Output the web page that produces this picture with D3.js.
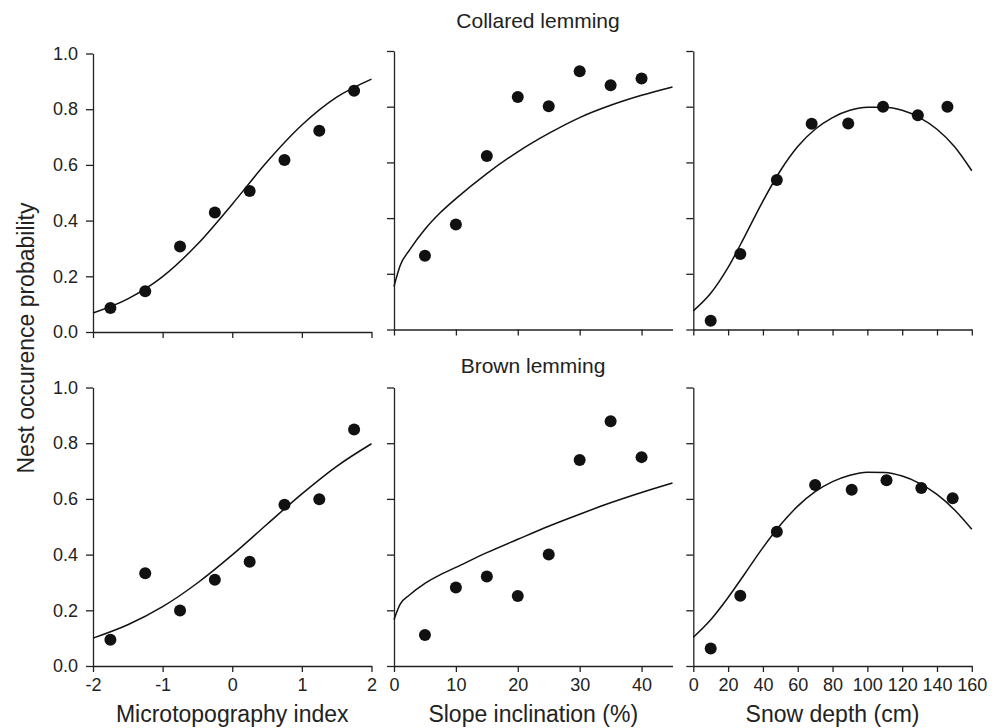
<!DOCTYPE html>
<html lang="en">
<head>
    <meta charset="UTF-8">
    <title>Nest occurence probability</title>
    <script src="https://d3js.org/d3.v7.min.js"></script>
    <style>
        body {
            margin: 0;
            background: #fff;
            font-family: Arial, "Liberation Sans", Helvetica, sans-serif;
        }
        svg {
            display: block;
        }
        .axis path, .axis line {
            stroke: #222;
            stroke-width: 1.3px;
        }
        .axis text {
            fill: #222;
            font-size: 18px;
            font-family: Arial, "Liberation Sans", Helvetica, sans-serif;
        }
        .label {
            fill: #222;
        }
    </style>
</head>
<body>

    <div id="container"></div>

    <script>

        const microX = [-1.75, -1.25, -0.75, -0.25, 0.25, 0.75, 1.25, 1.75];
        const collaredMicro = [0.086, 0.146, 0.307, 0.429, 0.506, 0.618, 0.723, 0.866];
        const brownMicro = [0.094, 0.333, 0.199, 0.310, 0.374, 0.579, 0.599, 0.849];

        const slopeX = [5, 10, 15, 20, 25, 30, 35, 40];
        const collaredSlope = [0.265, 0.377, 0.623, 0.835, 0.802, 0.927, 0.877, 0.901];
        const brownSlope = [0.111, 0.282, 0.321, 0.251, 0.400, 0.740, 0.879, 0.750];

        const collaredSnowX = [10, 27, 48, 68, 89, 109, 129, 146];
        const collaredSnow = [0.031, 0.271, 0.537, 0.739, 0.740, 0.800, 0.769, 0.800];
        const brownSnowX = [10, 27, 48, 70, 91, 111, 131, 149];
        const brownSnow = [0.063, 0.252, 0.482, 0.650, 0.633, 0.667, 0.639, 0.602];

        // fitted curves
        const microFitX = [-2, -1.5, -1, -0.5, 0, 0.5, 1, 1.5, 2];
        const collaredMicroFit = [0.068, 0.119, 0.199, 0.315, 0.459, 0.611, 0.743, 0.843, 0.908];
        const brownMicroFit = [0.100, 0.148, 0.213, 0.298, 0.399, 0.509, 0.618, 0.717, 0.798];

        const slopeFitX = [0, 1, 2.5, 5, 7.5, 10, 15, 20, 25, 30, 35, 40, 45];
        const collaredSlopeFit = [0.155, 0.23, 0.285, 0.36, 0.42, 0.47, 0.56, 0.638, 0.704, 0.761, 0.805, 0.841, 0.871];
        const brownSlopeFit = [0.167, 0.222, 0.255, 0.297, 0.328, 0.354, 0.407, 0.455, 0.502, 0.545, 0.586, 0.623, 0.657];

        const snowFitX = [0, 10, 20, 30, 40, 50, 60, 70, 80, 90, 100, 110, 120, 130, 140, 150, 160];
        const collaredSnowFit = [0.067, 0.130, 0.223, 0.340, 0.461, 0.570, 0.657, 0.719, 0.761, 0.787, 0.798, 0.798, 0.787, 0.761, 0.719, 0.657, 0.570];
        const brownSnowFit = [0.103, 0.166, 0.246, 0.335, 0.425, 0.506, 0.574, 0.626, 0.662, 0.685, 0.696, 0.695, 0.682, 0.656, 0.616, 0.561, 0.491];

        // axes
        const yTicks = [0, 0.2, 0.4, 0.6, 0.8, 1.0];
        const microTicks = [-2, -1, 0, 1, 2];
        const slopeTicks = [0, 10, 20, 30, 40];
        const snowTicks = [0, 20, 40, 60, 80, 100, 120, 140, 160];
        const xTitles = ['Microtopography index', 'Slope inclination (%)', 'Snow depth (cm)'];
        const rowTitles = ['Collared lemming', 'Brown lemming'];
        const yTitle = 'Nest occurence probability';

        // layout
        const width = 1002, height = 728;
        const colLeft = [93, 394, 693.3];
        const panelW = 278.5;
        const rowTop = [51, 387.5];
        const panelH = 278.5;

        const svg = d3.select('#container').append('svg')
            .attr('width', width)
            .attr('height', height);

        const zip = (xs, ys) => xs.map((x, i) => ({x: x, y: ys[i]}));

        const panels = [
            {row: 0, col: 0, domain: [-2, 2], ticks: microTicks, pts: zip(microX, collaredMicro), fit: zip(microFitX, collaredMicroFit)},
            {row: 0, col: 1, domain: [0, 45], ticks: slopeTicks, pts: zip(slopeX, collaredSlope), fit: zip(slopeFitX, collaredSlopeFit)},
            {row: 0, col: 2, domain: [0, 160], ticks: snowTicks, pts: zip(collaredSnowX, collaredSnow), fit: zip(snowFitX, collaredSnowFit)},
            {row: 1, col: 0, domain: [-2, 2], ticks: microTicks, pts: zip(microX, brownMicro), fit: zip(microFitX, brownMicroFit)},
            {row: 1, col: 1, domain: [0, 45], ticks: slopeTicks, pts: zip(slopeX, brownSlope), fit: zip(slopeFitX, brownSlopeFit)},
            {row: 1, col: 2, domain: [0, 160], ticks: snowTicks, pts: zip(brownSnowX, brownSnow), fit: zip(snowFitX, brownSnowFit)}
        ];

        // plain hyphen for negatives, like the original
        const intFormat = d => String(d);

        panels.forEach(function(p) {
            // the top-left panel sits a little lower in the original figure
            const top = rowTop[p.row] + (p.row === 0 && p.col === 0 ? 2.5 : 0);
            const g = svg.append('g')
                .attr('transform', 'translate(' + colLeft[p.col] + ',' + top + ')');

            const x = d3.scaleLinear().domain(p.domain).range([0, panelW]);
            const y = d3.scaleLinear().domain([0, 1]).range([panelH, 0]);

            const xAxis = d3.axisBottom(x)
                .tickValues(p.ticks)
                .tickSize(6)
                .tickSizeOuter(0)
                .tickPadding(6)
                .tickFormat(p.row === 1 ? intFormat : '');

            const yAxis = d3.axisLeft(y)
                .tickValues(yTicks)
                .tickSize(7)
                .tickSizeOuter(0)
                .tickPadding(8)
                .tickFormat(p.col === 0 ? d3.format('.1f') : '');

            g.append('g')
                .attr('class', 'axis')
                .attr('transform', 'translate(0,' + panelH + ')')
                .call(xAxis);

            g.append('g')
                .attr('class', 'axis')
                .call(yAxis);

            const line = d3.line()
                .x(d => x(d.x))
                .y(d => y(d.y))
                .curve(d3.curveMonotoneX);

            g.append('path')
                .datum(p.fit)
                .attr('d', line)
                .attr('fill', 'none')
                .attr('stroke', '#111')
                .attr('stroke-width', 1.5);

            g.selectAll('circle')
                .data(p.pts)
                .enter()
                .append('circle')
                .attr('cx', d => x(d.x))
                .attr('cy', d => y(d.y))
                .attr('r', 6)
                .attr('fill', '#111');

            // axis title under the bottom row
            if (p.row === 1) {
                g.append('text')
                    .attr('class', 'label')
                    .attr('x', panelW / 2)
                    .attr('y', 722 - top)
                    .attr('text-anchor', 'middle')
                    .style('font-size', '23px')
                    .text(xTitles[p.col]);
            }
        });

        // row titles
        svg.append('text')
            .attr('class', 'label')
            .attr('x', 538)
            .attr('y', 28)
            .attr('text-anchor', 'middle')
            .style('font-size', '21px')
            .text(rowTitles[0]);

        svg.append('text')
            .attr('class', 'label')
            .attr('x', 533)
            .attr('y', 373)
            .attr('text-anchor', 'middle')
            .style('font-size', '21px')
            .text(rowTitles[1]);

        // shared y title
        svg.append('text')
            .attr('class', 'label')
            .attr('transform', 'translate(34,338) rotate(-90)')
            .attr('text-anchor', 'middle')
            .style('font-size', '23px')
            .text(yTitle);

    </script>

</body>
</html>
